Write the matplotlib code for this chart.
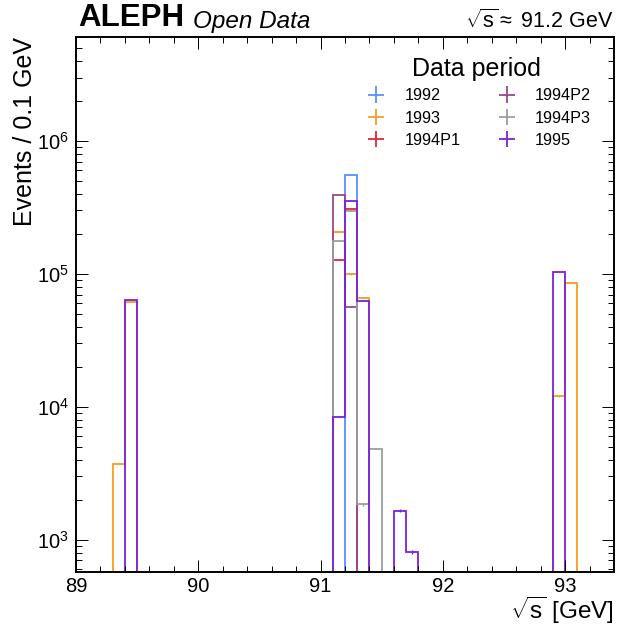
import numpy as np
import matplotlib
matplotlib.use("Agg")
import matplotlib.pyplot as plt
from matplotlib.ticker import MultipleLocator, LogLocator, NullFormatter

# Data: sqrt(s) histograms, 0.1 GeV bins, listed by bin lower edge
periods = ["1992", "1993", "1994P1", "1994P2", "1994P3", "1995"]
colors = ["#5790fc", "#f89c20", "#e42536", "#964a8b", "#9c9ca1", "#7a21dd"]

lo_1992 = [91.2]
n_1992 = [555000]

lo_1993 = [89.3, 89.4, 91.1, 91.2, 91.3, 92.9, 93.0]
n_1993 = [3750, 62000, 208000, 99000, 66400, 12000, 86000]

lo_1994P1 = [91.1, 91.2]
n_1994P1 = [127000, 308000]

lo_1994P2 = [91.1, 91.2]
n_1994P2 = [393000, 56800]

lo_1994P3 = [91.1, 91.2, 91.3, 91.4]
n_1994P3 = [178000, 299000, 1850, 4860]

lo_1995 = [89.4, 91.1, 91.2, 91.3, 91.6, 91.7, 92.9]
n_1995 = [63800, 8450, 354000, 63000, 1660, 808, 103000]

lows = [lo_1992, lo_1993, lo_1994P1, lo_1994P2, lo_1994P3, lo_1995]
counts = [n_1992, n_1993, n_1994P1, n_1994P2, n_1994P3, n_1995]

x_min, x_max, width = 89.0, 93.4, 0.1
edges = np.round(np.arange(x_min, x_max + width / 2, width), 2)
centers = 0.5 * (edges[:-1] + edges[1:])

plt.rcParams.update({
    "font.family": ["Liberation Sans", "DejaVu Sans"],
    "mathtext.fontset": "custom",
    "mathtext.rm": "Liberation Sans",
    "mathtext.it": "Liberation Sans:italic",
    "mathtext.bf": "Liberation Sans:bold",
    "axes.linewidth": 1.4,
    "xtick.direction": "in",
    "ytick.direction": "in",
    "xtick.top": True,
    "ytick.right": True,
    "xtick.major.size": 8.3,
    "ytick.major.size": 8.3,
    "xtick.minor.size": 4.2,
    "ytick.minor.size": 4.2,
    "xtick.major.width": 0.7,
    "ytick.major.width": 0.7,
    "xtick.minor.width": 0.7,
    "ytick.minor.width": 0.7,
    "xtick.labelsize": 14.5,
    "ytick.labelsize": 14.5,
    "xtick.major.pad": 3.5,
    "ytick.major.pad": 5,
})

fig = plt.figure(figsize=(6.18, 6.27), dpi=100)
ax = fig.add_axes([0.123, 0.088, 0.8705, 0.853])

handles = []
for name, c, lo, n in zip(periods, colors, lows, counts):
    vals = np.ones(len(centers))  # below the axis floor -> hidden
    idx = np.round((np.array(lo) - x_min) / width).astype(int)
    vals[idx] = n
    ax.stairs(vals, edges, baseline=None, color=c, linewidth=1.3)
    ax.errorbar(centers[idx], np.array(n, float), yerr=np.sqrt(n), fmt="none",
                ecolor=c, elinewidth=1.0)
    h = ax.errorbar([np.nan], [np.nan], xerr=[1], yerr=[1], fmt="none",
                    ecolor=c, elinewidth=1.3, label=name)
    handles.append(h)

ax.set_yscale("log")
ax.set_xlim(x_min, x_max)
ax.set_ylim(575, 6.05e6)
ax.xaxis.set_major_locator(MultipleLocator(1))
ax.xaxis.set_minor_locator(MultipleLocator(0.2))
ax.yaxis.set_minor_locator(LogLocator(base=10, subs=np.arange(2, 10)))
ax.yaxis.set_minor_formatter(NullFormatter())

ax.set_xlabel(r"$\sqrt{\mathrm{s}}$ [GeV]", fontsize=17.5, loc="right", labelpad=-1.0)
ax.set_ylabel("Events / 0.1 GeV", fontsize=18, loc="top", labelpad=0)

leg = ax.legend(handles=handles, ncol=2, title="Data period", frameon=False,
                fontsize=11.7, title_fontsize=18, loc="upper right",
                bbox_to_anchor=(0.985, 0.99), handlelength=1.7,
                handletextpad=0.9, columnspacing=2.0, labelspacing=0.45)

ax.text(0.005, 1.008, "ALEPH", transform=ax.transAxes, fontsize=22.5,
        fontweight="bold", ha="left", va="bottom")
ax.text(0.218, 1.008, "Open Data", transform=ax.transAxes, fontsize=17.5,
        fontstyle="italic", ha="left", va="bottom")
ax.text(1.0, 1.008, r"$\sqrt{\mathrm{s}} \approx$ 91.2 GeV", transform=ax.transAxes,
        fontsize=15.5, ha="right", va="bottom")

fig.savefig("out.png", dpi=100)
